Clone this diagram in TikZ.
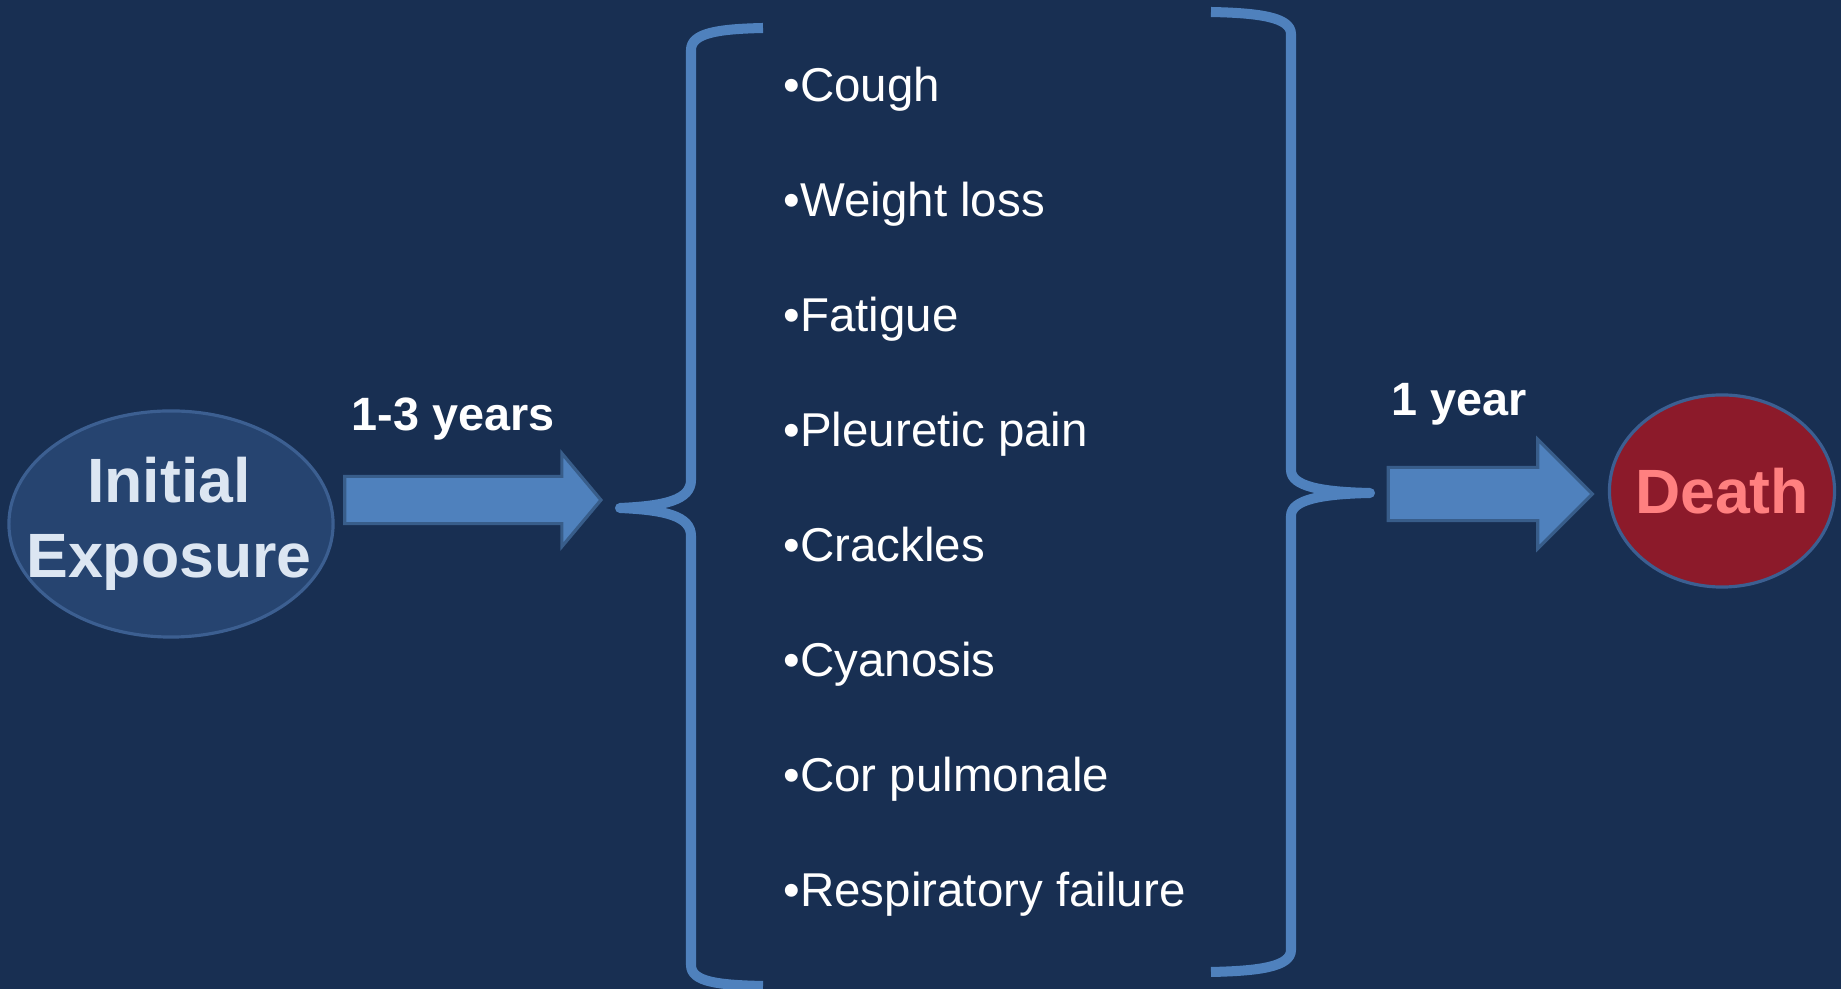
\documentclass[tikz,border=0pt]{standalone}
\usepackage{fontspec}
\setmainfont{Liberation Sans}
\usetikzlibrary{shapes.geometric,shapes.arrows}
\definecolor{navy}{RGB}{24,47,82}
\definecolor{bubblefill}{RGB}{38,68,112}
\definecolor{bubbleline}{RGB}{60,95,145}
\definecolor{bubbletext}{RGB}{220,230,242}
\definecolor{deathfill}{RGB}{140,26,42}
\definecolor{deathtext}{RGB}{255,128,128}
\definecolor{arrowblue}{RGB}{79,129,189}
\definecolor{arrowline}{RGB}{56,93,138}

\begin{document}
\begin{tikzpicture}[x=0.01cm,y=-0.01cm,
  bubble/.style={ellipse,draw=bubbleline,line width=0.9pt,inner sep=0pt},
  bubbletxt/.style={inner sep=0pt,align=center,font=\bfseries\fontsize{17.8}{21.3}\selectfont},
  blockarrow/.style={single arrow,draw=arrowline,fill=arrowblue,line width=0.9pt,
    inner xsep=0pt,single arrow head indent=0pt},
  symitem/.style={anchor=base west,inner sep=0pt,text=white,font=\fontsize{13.5}{16}\selectfont},
  timelabel/.style={text=white,font=\bfseries\fontsize{13.3}{16}\selectfont},
  brace/.style={draw=arrowblue,line width=2.85pt,line join=round}]
\useasboundingbox (0,0) rectangle (1841,989);
\fill[navy] (0,0) rectangle (1841,989);

% start and end
\node[bubble,fill=bubblefill,minimum width=3.24cm,minimum height=2.26cm] (expo) at (171,524) {};
\node[bubbletxt,text=bubbletext] (expotxt) at ([xshift=-0.02cm]expo.center) {Initial\\Exposure};
\node[bubble,fill=deathfill,minimum width=2.25cm,minimum height=1.92cm] (death) at (1722,491) {};
\node[bubbletxt,text=deathtext] (deathtxt) at (death.center) {Death};

% block arrows
\node[blockarrow,minimum height=2.56cm,minimum width=0.9cm,inner ysep=0.22cm,
  single arrow head extend=0.23cm,single arrow tip angle=100] (arrA) at (463,500) {};
\node[blockarrow,minimum height=2.04cm,minimum width=1.06cm,inner ysep=0.25cm,
  single arrow head extend=0.28cm] (arrB) at (1477,494) {};
\node[timelabel] (lblA) at (453,419) {1-3 years};
\node[timelabel] (lblB) at (1459,404) {1 year};

% braces
\draw[brace] (763,28) .. controls (718,29) and (691,33) .. (691,50) -- (691,480)
  .. controls (691,500) and (665,506) .. (620,508)
  .. controls (665,510) and (691,516) .. (691,536) -- (691,965)
  .. controls (691,982) and (718,985) .. (763,986);
\draw[brace] (1211,12) .. controls (1258,13) and (1291,17) .. (1291,34) -- (1291,470)
  .. controls (1291,486) and (1320,492) .. (1370,493)
  .. controls (1320,494) and (1291,500) .. (1291,516) -- (1291,950)
  .. controls (1291,967) and (1258,971) .. (1211,972);

% symptoms
\foreach \txt [count=\i] in {Cough,Weight loss,Fatigue,Pleuretic pain,Crackles,Cyanosis,Cor pulmonale,Respiratory failure}
  \node[symitem] (sym\i) at (783,{101.5+115.07*(\i-1)}) {•\txt};
\end{tikzpicture}
\end{document}
